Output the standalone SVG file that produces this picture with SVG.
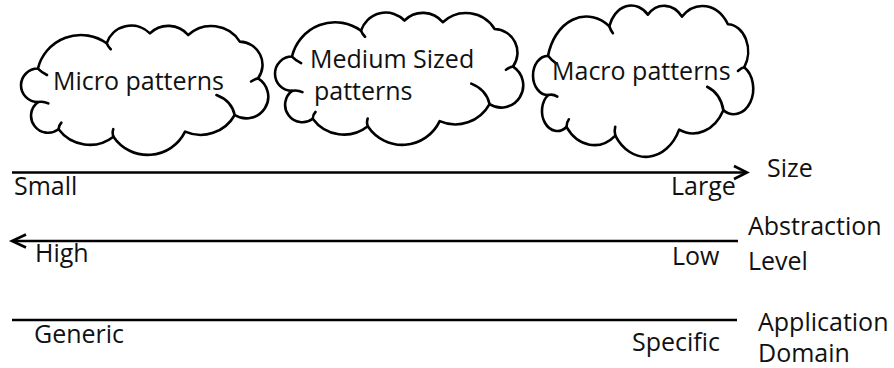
<svg xmlns="http://www.w3.org/2000/svg" width="894" height="368" viewBox="0 0 894 368">
<style>
.cl{fill:#fff;stroke:#000;stroke-width:2.6;stroke-linejoin:round;stroke-linecap:round}
.hk{fill:none;stroke:#000;stroke-width:2.6;stroke-linecap:round}
.t{font-family:"Open Sans","Liberation Sans",sans-serif;font-size:25px;fill:#111}
.ln{stroke:#000;stroke-width:2.6;fill:none}
</style>
<defs>
<path id="cloudBody" vector-effect="non-scaling-stroke" d="M13,33 A34,34 0 0 1 65.9,13.4 A20,20 0 0 1 99.2,5.7 A20,20 0 0 1 128.6,7 A26,26 0 0 1 168.3,12.1 A18,18 0 0 1 182.4,40.6 A10,10 0 0 1 164.4,69 A30,30 0 0 1 126.2,81.9 A31.8,31.8 0 0 1 71.1,85.8 A29.7,29.7 0 0 1 28.9,80.1 A12,12 0 0 1 13,59 A10,10 0 0 1 13,33 Z"/>
<path id="cloudHooks" vector-effect="non-scaling-stroke" d="M13,33 Q16,36 20,38 M65.9,13.4 Q67,16 69,18 M182.4,40.6 Q180,41 177,43 M150.4,53.5 Q162,58 164.4,69 M71.1,85.8 Q70,83 71,80 M28.9,80.1 Q29,77 31,75 M13,59 Q17,58 21,60"/>
</defs>
<g id="cloud-micro">
<g transform="translate(21,26) scale(1.3,1.29)">
<use href="#cloudBody" class="cl"/>
<use href="#cloudHooks" class="hk"/>
</g>
<text class="t" x="53" y="90">Micro patterns</text>
</g>
<g id="cloud-medium">
<g transform="translate(275,13) scale(1.305,1.32)">
<use href="#cloudBody" class="cl"/>
<use href="#cloudHooks" class="hk"/>
</g>
<text class="t" x="310" y="68">Medium Sized</text>
<text class="t" x="314" y="100">patterns</text>
</g>
<g id="cloud-macro">
<g transform="translate(533,6) scale(1.158,1.51)">
<use href="#cloudBody" class="cl"/>
<use href="#cloudHooks" class="hk"/>
</g>
<text class="t" x="552" y="80">Macro patterns</text>
</g>
<g id="connectors">
<line class="ln" x1="12" y1="172.5" x2="745" y2="172.5"/>
<polyline class="ln" points="734,166 747,172.5 734,179"/>
<line class="ln" x1="13" y1="241" x2="738" y2="241"/>
<polyline class="ln" points="26,234.5 12,241 26,247.5"/>
<line class="ln" x1="12" y1="320" x2="737" y2="320"/>
</g>
<g id="labels">
<text class="t" x="14" y="195">Small</text>
<text class="t" x="671" y="195">Large</text>
<text class="t" x="767" y="177">Size</text>
<text class="t" x="35" y="262">High</text>
<text class="t" x="672" y="265">Low</text>
<text class="t" x="748" y="235">Abstraction</text>
<text class="t" x="748" y="270">Level</text>
<text class="t" x="34" y="343">Generic</text>
<text class="t" x="632" y="351">Specific</text>
<text class="t" x="758" y="331">Application</text>
<text class="t" x="758" y="362">Domain</text>
</g>
</svg>
